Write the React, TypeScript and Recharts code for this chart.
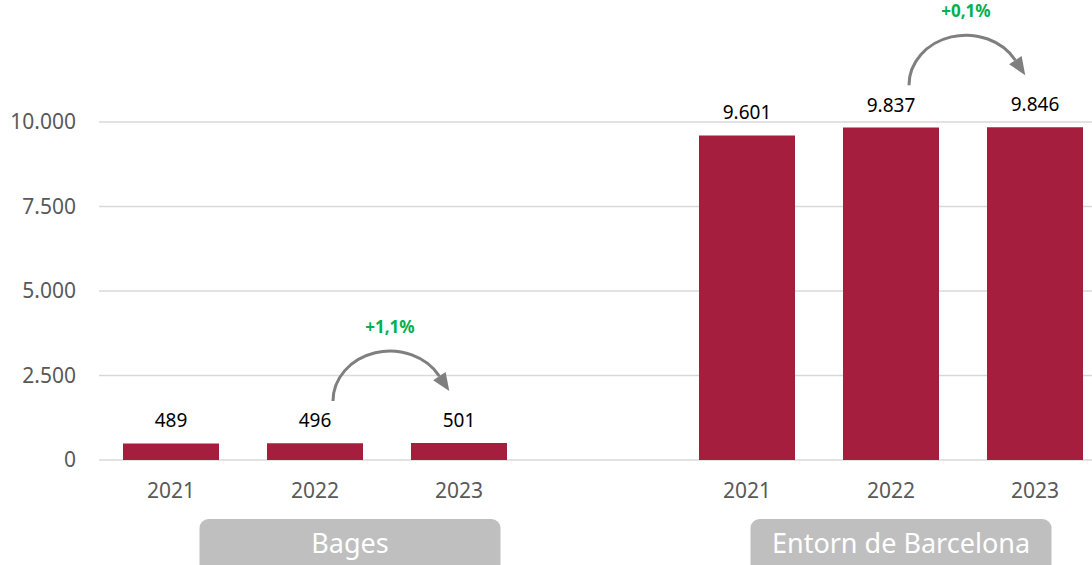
import React from 'react';
import { Bar, BarChart, CartesianGrid, LabelList, XAxis, YAxis } from 'recharts';

// one slot per bar, the empty slot separates the two territories
const years = ['2021', '2022', '2023', '', '2021', '2022', '2023'];
const values = [489, 496, 501, null, 9601, 9837, 9846];
const groupLabels = ['', 'Bages', '', '', '', 'Entorn de Barcelona', ''];
const growth = ['', '', '+1,1%', '', '', '', '+0,1%'];
const yTicks = [0, 2500, 5000, 7500, 10000];
const yMax = 12500;

const data = years.map((year, i) => ({
  key: `${i}`,
  year,
  value: values[i],
  group: groupLabels[i],
  growth: growth[i]
}));

const BAR = '#A51E3D';
const GREY_TEXT = '#595959';
const ARROW = '#7F7F7F';

// the grey boxes are not centred on the middle bar in the original
const boxShift: Record<string, number> = { Bages: 35, 'Entorn de Barcelona': 10 };

const fmt = (v: number | null | undefined) =>
  v == null ? '' : String(Math.round(v)).replace(/\B(?=(\d{3})+(?!\d))/g, '.');

// grid only on the labelled ticks, not on the top of the domain
const gridLines = (p: any) => {
  const s = p?.yAxis?.scale;
  if (typeof s === 'function') return yTicks.map((t) => s(t));
  if (s && typeof s.map === 'function') return yTicks.map((t) => s.map(t));
  const top = p.offset.top;
  const h = p.offset.height;
  return yTicks.map((t) => top + h * (1 - t / yMax));
};

function GroupTick(props: any) {
  const { x, y, payload } = props;
  const label = payload?.value;
  if (!label) return null;
  const cx = x + (boxShift[label] ?? 0);
  return (
    <g>
      <rect x={cx - 150.5} y={y} width={301} height={60} rx={9} ry={9} fill="#BFBFBF" />
      <text x={cx} y={y + 34} textAnchor="middle" fill="#ffffff" fontSize={27}>
        {label}
      </text>
    </g>
  );
}

function GrowthArrow(props: any) {
  const { x, y, width, height, value, index } = props;
  if (!value || index == null || index < 1) return null;
  const cur = values[index];
  const prev = values[index - 1];
  if (cur == null || prev == null) return null;
  const k = height / cur;
  const base = y + height;
  const prevTop = base - prev * k;
  const top = Math.min(prevTop, y);

  // bars fill two thirds of their slot
  const cx1 = x + width / 2;
  const cx0 = cx1 - width * 1.5;
  const sx = cx0 + 18;
  const tx = cx1 - 12;
  const sy = top - 42;
  const rx = (tx - sx) / 2;
  const ry = 50;
  const ecx = sx + rx;

  const t = Math.PI / 6;
  const ex = ecx + rx * Math.cos(t);
  const ey = sy - ry * Math.sin(t);
  let dx = rx * Math.sin(t);
  let dy = ry * Math.cos(t);
  const len = Math.hypot(dx, dy);
  dx /= len;
  dy /= len;
  const headLen = 18;
  const half = 7.5;
  const tipX = ex + dx * headLen;
  const tipY = ey + dy * headLen;
  const p1 = `${ex - dy * half},${ey + dx * half}`;
  const p2 = `${ex + dy * half},${ey - dx * half}`;

  return (
    <g>
      <path
        d={`M ${sx} ${sy} A ${rx} ${ry} 0 0 1 ${ex} ${ey}`}
        fill="none"
        stroke={ARROW}
        strokeWidth={3}
      />
      <polygon points={`${tipX},${tipY} ${p1} ${p2}`} fill={ARROW} />
      <text
        x={ecx}
        y={sy - ry - 18}
        textAnchor="middle"
        fill="#00B050"
        fontWeight="bold"
        fontSize={17}
      >
        {value}
      </text>
    </g>
  );
}

export default function App() {
  return (
    <div
      style={{
        position: 'absolute',
        left: 0,
        top: 0,
        width: 1092,
        height: 565,
        overflow: 'hidden',
        background: '#ffffff',
        fontFamily: '"Noto Sans", sans-serif'
      }}
    >
      <BarChart
        width={1110}
        height={565}
        data={data}
        margin={{ top: 37.5, right: 3, bottom: 0, left: 0 }}
        barCategoryGap="16.67%"
      >
        <CartesianGrid
          vertical={false}
          stroke="#D9D9D9"
          strokeWidth={1.5}
          horizontalCoordinatesGenerator={gridLines}
        />
        <XAxis
          dataKey="year"
          interval={0}
          axisLine={false}
          tickLine={false}
          height={58}
          tickSize={6}
          tickMargin={17}
          tick={{ fontSize: 21, fill: GREY_TEXT }}
        />
        <XAxis
          xAxisId="grp"
          dataKey="group"
          interval={0}
          axisLine={false}
          tickLine={false}
          height={47}
          tickSize={0}
          tickMargin={1}
          tick={<GroupTick />}
        />
        <YAxis
          domain={[0, yMax]}
          ticks={yTicks}
          width={99}
          axisLine={false}
          tickLine={false}
          tickSize={6}
          tickMargin={17}
          tick={{ fontSize: 21, fill: GREY_TEXT }}
          tickFormatter={(v) => fmt(Number(v))}
        />
        <Bar dataKey="value" fill={BAR} isAnimationActive={false}>
          <LabelList
            dataKey="value"
            position="top"
            offset={16}
            fill="#000000"
            fontSize={19}
            formatter={(v: any) => fmt(v)}
          />
          <LabelList dataKey="growth" content={<GrowthArrow />} />
        </Bar>
      </BarChart>
    </div>
  );
}
